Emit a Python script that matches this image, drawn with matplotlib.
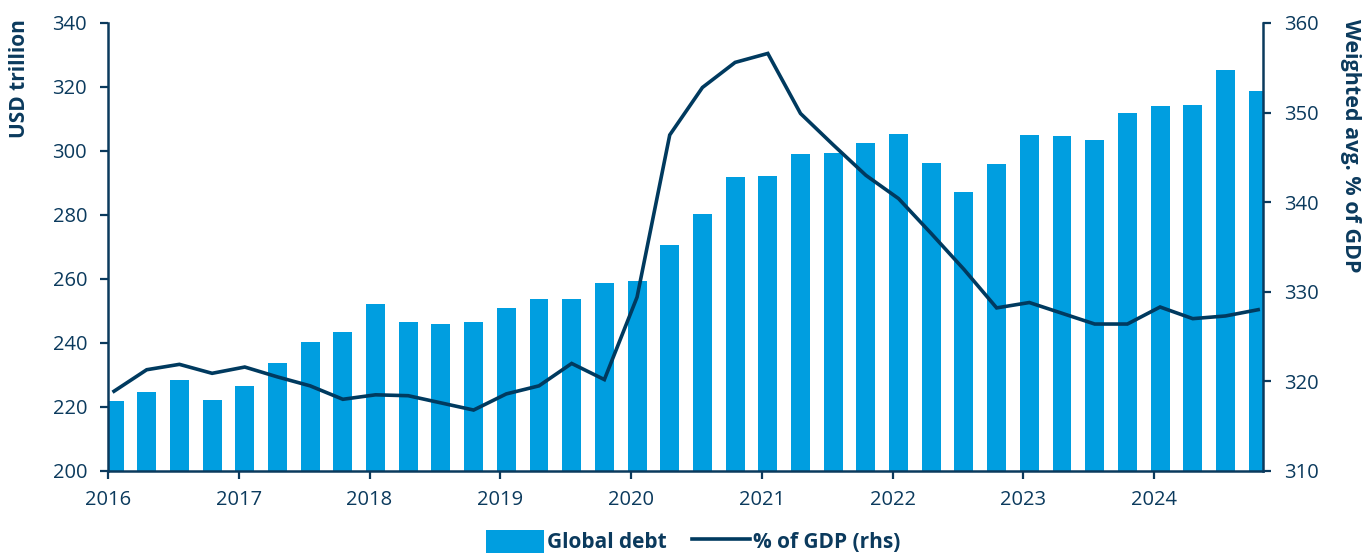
import numpy as np
import matplotlib.pyplot as plt
from matplotlib.lines import Line2D
from matplotlib.patches import Patch

plt.rcParams['font.family'] = ['Open Sans', 'DejaVu Sans']

# quarterly data, 2016Q1 .. 2024Q4
quarters = np.arange(36)
global_debt = [222.0, 224.7, 228.4, 222.3, 226.7, 233.8, 240.2, 243.5,
               252.1, 246.7, 245.8, 246.7, 250.8, 253.8, 253.8, 258.6,
               259.3, 270.6, 280.3, 292.0, 292.2, 299.1, 299.4, 302.4,
               305.3, 296.2, 287.1, 295.9, 305.0, 304.7, 303.5, 312.0,
               314.0, 314.3, 325.2, 318.8]
pct_gdp = [318.9, 321.3, 321.9, 320.9, 321.6, 320.5, 319.5, 318.0,
           318.5, 318.4, 317.6, 316.8, 318.6, 319.5, 322.0, 320.2,
           329.4, 347.5, 352.8, 355.6, 356.6, 349.9, 346.4, 343.0,
           340.4, 336.5, 332.5, 328.2, 328.8, 327.6, 326.4, 326.4,
           328.3, 327.0, 327.3, 328.0]
years = np.arange(2016, 2025)

navy = '#0b3a5d'
bar_color = '#009ee0'
line_color = '#003a5f'

x = 2016.046 + 0.25 * quarters

fig = plt.figure(figsize=(13.62, 5.55), dpi=100)
ax = fig.add_axes([0.0793, 0.1514, 0.848, 0.8072])
ax2 = ax.twinx()

ax.bar(x, global_debt, width=0.145, color=bar_color, zorder=2)
ax2.plot(x, pct_gdp, color=line_color, linewidth=2.6, solid_joinstyle='miter')

ax.set_xlim(2016, 2024.833)
ax.set_ylim(200, 340)
ax2.set_ylim(310, 360)
ax.set_xticks(years)
ax.set_xticklabels([str(y) for y in years])
ax.set_yticks(np.arange(200, 341, 20))
ax2.set_yticks(np.arange(310, 361, 10))

for a in (ax, ax2):
    for s in a.spines.values():
        s.set_visible(False)
    a.tick_params(colors=navy, labelcolor=navy, labelsize=14.5, width=1.6, length=6)
ax.spines['left'].set_visible(True)
ax.spines['bottom'].set_visible(True)
ax2.spines['right'].set_visible(True)
for s in (ax.spines['left'], ax.spines['bottom'], ax2.spines['right']):
    s.set_color(navy)
    s.set_linewidth(1.8)
ax.spines['bottom'].set_zorder(3)
ax.tick_params(axis='y', pad=9)
ax.tick_params(axis='x', pad=8)
ax2.tick_params(axis='y', pad=9)

# axis titles sit at the top of each y axis
ax.set_ylabel('USD trillion', fontsize=15, fontweight='bold', color=navy)
ax2.set_ylabel('Weighted avg. % of GDP', fontsize=15.5, fontweight='bold', color=navy,
               rotation=-90)
for a, xpos in ((ax, -0.0762), (ax2, 1.0762)):
    lab = a.yaxis.label
    lab.set_rotation_mode('default')
    lab.set_horizontalalignment('center')
    lab.set_verticalalignment('top')
    a.yaxis.set_label_coords(xpos, 1.008)

handles = [Patch(facecolor=bar_color, edgecolor='none'),
           Line2D([0], [0], color=line_color, linewidth=2.6)]
fig.legend(handles, ['Global debt', '% of GDP (rhs)'], loc='center',
           bbox_to_anchor=(0.509, 0.024), ncol=2, frameon=False,
           handlelength=2.8, handleheight=1.3, handletextpad=0.15, columnspacing=1.2,
           prop={'size': 15, 'weight': 'bold'}, labelcolor=navy)

fig.savefig('out.png', dpi=100)
